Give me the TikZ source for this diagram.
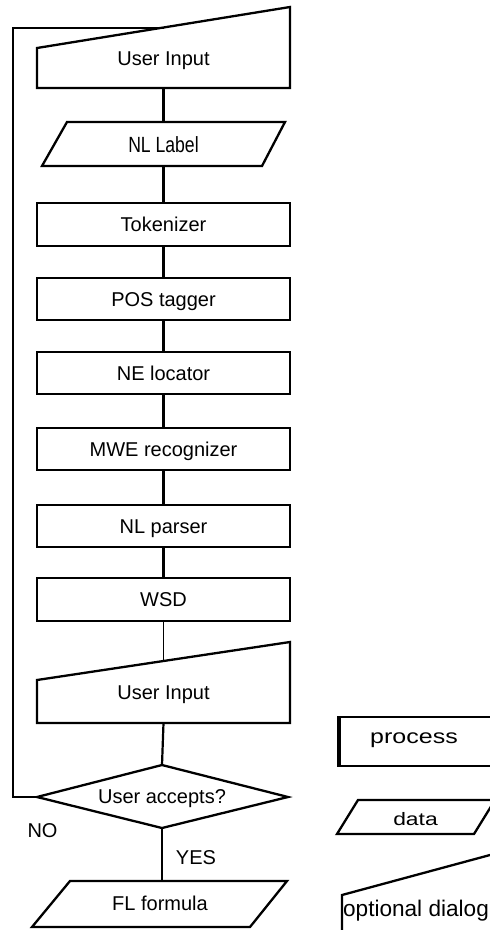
\documentclass[tikz,border=0pt]{standalone}
\usepackage{fontspec}
\usepackage{graphicx}
\setmainfont{Liberation Sans}
\usetikzlibrary{calc}
\tikzset{
  shp/.style={draw=black, line width=2.3pt, line join=miter},
  conn/.style={draw=black, line width=2.2pt},
  thinconn/.style={draw=black, line width=1.4pt},
  loopline/.style={draw=black, line width=2pt},
  txt/.style={inner sep=0pt, anchor=base, font=\fontsize{20}{24}\selectfont},
  proc/.style={draw=black, line width=2.3pt, minimum width=253pt, minimum height=42.5pt,
    inner sep=0pt, text height=14.3pt, text depth=0pt, font=\fontsize{20}{24}\selectfont}
}
\begin{document}
\begin{tikzpicture}[x=1pt,y=-1pt]
\useasboundingbox (0,0) rectangle (490,930);
\begin{scope}
\clip (0,0) rectangle (490,930);

% top user input (optional dialog)
\draw[shp] (37,48) -- (290,7) -- (290,88) -- (37,88) -- cycle;
\node[txt] (ui1) at (163.5,65) {User Input};
\coordinate (ui1top) at (163.5,27.5);
\coordinate (ui1bot) at (163.5,88);

% NL label (data)
\draw[shp] (67,122) -- (285,122) -- (262,166) -- (42,166) -- cycle;
\node[txt] (nl) at (163.5,152) {\scalebox{0.88}[1.1]{NL Label}};
\coordinate (nltop) at (163.5,122);
\coordinate (nlbot) at (163.5,166);

% processes
\node[proc] (tok) at (163.5,224.5) {Tokenizer};
\node[proc] (pos) at (163.5,299) {POS tagger};
\node[proc] (ne)  at (163.5,373) {NE locator};
\node[proc] (mwe) at (163.5,449) {MWE recognizer};
\node[proc] (nlp) at (163.5,526) {NL parser};
\node[proc] (wsd) at (163.5,599.5) {WSD};

% second user input
\draw[shp] (37,680) -- (290,642) -- (290,723) -- (37,723) -- cycle;
\node[txt] (ui2) at (163.5,699) {User Input};
\coordinate (ui2top) at (163.5,661);
\coordinate (ui2bot) at (163.5,723);

% decision
\coordinate (dt) at (162,765);
\coordinate (dr) at (288,797);
\coordinate (db) at (162,828);
\coordinate (dl) at (37,797);
\draw[shp] (dt) -- (dr) -- (db) -- (dl) -- cycle;
\node[txt] (acc) at (162,803) {User accepts?};

% FL formula
\draw[shp] (70,881) -- (287,881) -- (250,927) -- (32,927) -- cycle;
\node[txt] (fl) at (160,910) {FL formula};
\coordinate (fltop) at (162,881);

% connectors
\draw[conn] (ui1bot) -- (nltop);
\draw[conn] (nlbot) -- (tok.north);
\draw[conn] (tok.south) -- (pos.north);
\draw[conn] (pos.south) -- (ne.north);
\draw[conn] (ne.south) -- (mwe.north);
\draw[conn] (mwe.south) -- (nlp.north);
\draw[conn] (nlp.south) -- (wsd.north);
\draw[thinconn] (wsd.south) -- (ui2top);
\draw[conn] (ui2bot) -- (dt);
\draw[conn] (db) -- (fltop);
\draw[loopline] (dl) -- (13,797) -- (13,27.5) -- (ui1top);

\node[txt] (no) at (42.5,837) {NO};
\node[txt] (yes) at (196,864) {YES};

% legend
\draw[shp] (520,717) -- (339,717) -- (339,766) -- (520,766);
\draw[black, line width=3.2pt] (339,716) -- (339,767);
\node[txt] (lproc) at (414,743) {\scalebox{1.25}[1]{process}};

\draw[shp] (358,800) -- (495,800) -- (474,834) -- (337,834) -- cycle;
\node[txt, font=\fontsize{18}{22}\selectfont] (ldata) at (415.5,825) {\scalebox{1.27}[1]{data}};

\draw[shp] (342,945) -- (342,895) -- (490,855) -- (530,844.2);
\node[txt, font=\fontsize{22.6}{26}\selectfont] (ldlg) at (416,916) {optional dialog};
\end{scope}
\end{tikzpicture}
\end{document}
